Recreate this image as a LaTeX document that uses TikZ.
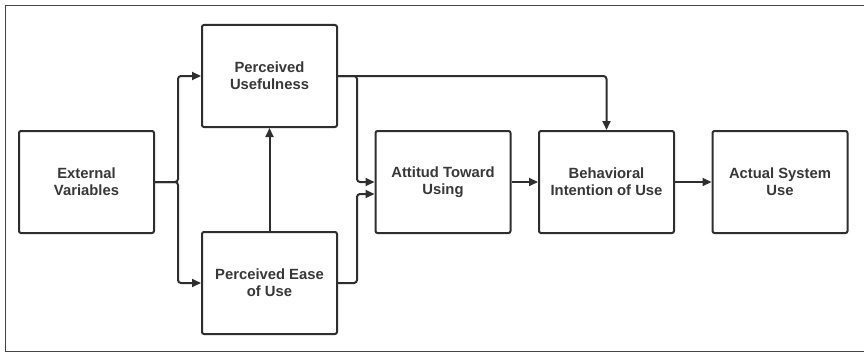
\documentclass[tikz,border=0pt]{standalone}
\usepackage{fontspec}
\setmainfont{Liberation Sans}
\usetikzlibrary{arrows.meta,calc}
\definecolor{ink}{HTML}{2E2E2E}
\definecolor{txt}{HTML}{383838}
\definecolor{frame}{HTML}{444444}
\begin{document}
\begin{tikzpicture}[x=1pt,y=-1pt,
  box/.style={draw=ink, line width=2pt, rounded corners=2pt, fill=white,
    minimum width=135pt, minimum height=102pt, inner sep=0pt,
    align=center, text=txt,
    font=\fontsize{14.8}{17}\selectfont\bfseries},
  link/.style={draw=ink, line width=2pt, rounded corners=3pt,
    -{Triangle[length=9pt,width=8pt]}}]
  \useasboundingbox (0,0) rectangle (864,353);
  % outer frame, open on the right
  \draw[frame, line width=1.8pt] (864,5.5) -- (5.5,5.5) -- (5.5,351.5) -- (864,351.5);

  % boxes
  \node[box] (ev)   at (86.5,182) {External\\Variables};
  \node[box] (pu)   at (269.5,76) {Perceived\\Usefulness};
  \node[box] (peou) at (269.5,283) {Perceived Ease\\of Use};
  \node[box] (at)   at (443,182) {Attitud Toward\\Using};
  \node[box] (bi)   at (606.5,182) {Behavioral\\Intention of Use};
  \node[box] (asu)  at (780,182) {Actual System\\Use};

  % branch points
  \coordinate (evsplit) at (178,182);
  \coordinate (pusplit) at (357,76);
  \coordinate (peousplit) at (357,283);

  % connectors
  \draw[link] (ev.east) -- (evsplit) |- (pu.west);
  \draw[link] (ev.east) -- (evsplit) |- (peou.west);
  \draw[link] (peou.north) -- (pu.south);
  \draw[link] (pu.east) -| (bi.north);
  \draw[link] (pu.east) -- (pusplit) |- (at.west);
  \draw[link] (peou.east) -- (peousplit) |- ($(at.west)+(0,12)$);
  \draw[link] (at.east) -- (bi.west);
  \draw[link] (bi.east) -- (asu.west);
\end{tikzpicture}
\end{document}
